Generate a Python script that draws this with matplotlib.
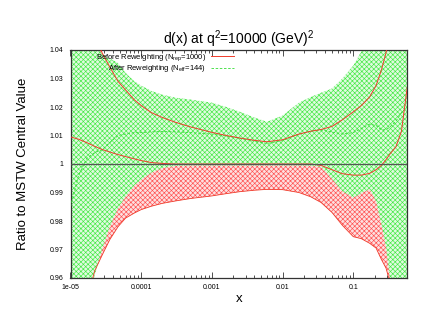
import matplotlib
matplotlib.use("Agg")
import matplotlib.pyplot as plt
from matplotlib.ticker import LogLocator, NullFormatter, FixedLocator, FixedFormatter

plt.rcParams['font.family'] = ['Liberation Sans', 'DejaVu Sans']
plt.rcParams['mathtext.default'] = 'regular'
plt.rcParams['hatch.linewidth'] = 0.45

# ---- data ----
x = [1e-5, 1.3e-5, 1.7e-5, 2.2e-5, 2.8e-5, 3.6e-5, 4.7e-5, 6e-5, 8e-5, 1e-4,
     1.4e-4, 2e-4, 3e-4, 5e-4, 1e-3, 1.6e-3, 2.5e-3, 4e-3, 6e-3, 1e-2,
     1.7e-2, 2.5e-2, 3.5e-2, 5e-2, 7e-2, 1e-1, 1.3e-1, 1.7e-1, 2.1e-1, 2.5e-1,
     2.9e-1, 3.3e-1, 4e-1, 4.8e-1, 5.8e-1]

# before reweighting band (upper / lower edge)
before_up = [1.075, 1.063, 1.053, 1.045, 1.039, 1.034, 1.029, 1.026, 1.0225, 1.0205,
             1.018, 1.0163, 1.0147, 1.013, 1.0111, 1.0100, 1.0091, 1.0083, 1.0078, 1.0085,
             1.0105, 1.0115, 1.0121, 1.0132, 1.0155, 1.0183, 1.0205, 1.0235, 1.0275, 1.033,
             1.039, 1.046, 1.06, 1.08, 1.10]
before_lo = [0.915, 0.935, 0.952, 0.9625, 0.968, 0.9735, 0.978, 0.981, 0.9828, 0.9840,
             0.9852, 0.9862, 0.9870, 0.9879, 0.9888, 0.9896, 0.9903, 0.9908, 0.9911, 0.9910,
             0.9900, 0.9885, 0.9865, 0.9830, 0.9785, 0.9745, 0.9738, 0.9722, 0.9705, 0.9665,
             0.9635, 0.9585, 0.945, 0.925, 0.90]
# after reweighting band (upper / lower edge) and its central value
after_up = [1.07, 1.06, 1.05, 1.042, 1.0385, 1.0370, 1.0355, 1.032, 1.029, 1.0275,
            1.0256, 1.0243, 1.0233, 1.0226, 1.0215, 1.0200, 1.0183, 1.0163, 1.0148, 1.0170,
            1.0215, 1.0235, 1.0250, 1.0265, 1.0300, 1.0345, 1.0395, 1.046, 1.052, 1.058,
            1.064, 1.07, 1.08, 1.09, 1.10]
after_lo = [0.90, 0.925, 0.948, 0.961, 0.970, 0.978, 0.9845, 0.9885, 0.9925, 0.9945,
            0.9970, 0.9986, 0.9993, 0.9995, 0.9995, 0.9995, 0.9995, 0.9995, 0.9995, 0.9995,
            0.9995, 0.9994, 0.9990, 0.9948, 0.9905, 0.9882, 0.9898, 0.9912, 0.9870, 0.9790,
            0.9710, 0.9600, 0.935, 0.90, 0.86]
after_mid = [0.985, 0.996, 1.002, 1.004, 1.005, 1.0075, 1.010, 1.0105, 1.011, 1.011,
             1.0113, 1.0114, 1.0113, 1.011, 1.0105, 1.0098, 1.009, 1.008, 1.0072, 1.0082,
             1.0105, 1.0115, 1.012, 1.0112, 1.0105, 1.011, 1.0125, 1.014, 1.0135, 1.012,
             1.012, 1.013, 1.015, 1.018, 1.02]
# second red curve
red_mid = [1.0095, 1.0087, 1.0075, 1.0062, 1.0051, 1.0042, 1.0033, 1.0026, 1.0018, 1.0012,
           1.0005, 1.0002, 1.0000, 1.0000, 1.0000, 1.0000, 1.0000, 1.0000, 1.0000, 1.0000,
           1.0000, 1.0000, 0.9995, 0.9980, 0.9966, 0.9961, 0.9961, 0.9967, 0.9980, 0.9995,
           1.0015, 1.0035, 1.0060, 1.0115, 1.027]

xticks = [1e-5, 1e-4, 1e-3, 1e-2, 1e-1]
xticklabels = ['1e-05', '0.0001', '0.001', '0.01', '0.1']
yticks = [0.96, 0.97, 0.98, 0.99, 1.0, 1.01, 1.02, 1.03, 1.04]
yticklabels = ['0.96', '0.97', '0.98', '0.99', '1', '1.01', '1.02', '1.03', '1.04']
label_before = 'Before Reweighting (N$_{rep}$=1000)'
label_after = 'After Reweighting (N$_{eff}$=144)'

RED = '#f03a2a'
GREEN = '#33dd33'

fig = plt.figure(figsize=(4.34, 3.35), dpi=100)
ax = fig.add_axes([70.5/434, 1-278/335, 336.5/434, 228/335])

ax.fill_between(x, before_lo, before_up, facecolor='#fde0e0', edgecolor='#ff5050',
                hatch='xxxxxxx', linewidth=0, zorder=1)
ax.fill_between(x, after_lo, after_up, facecolor='#e0fbe0', edgecolor='#44e844',
                hatch='xxxxxxx', linewidth=0, zorder=2)

l1, = ax.plot(x, before_up, color=RED, lw=0.7, zorder=4, label=label_before)
ax.plot(x, before_lo, color=RED, lw=0.6, zorder=4)
ax.plot(x, red_mid, color=RED, lw=0.7, zorder=4)
l2, = ax.plot(x, after_mid, color=GREEN, lw=0.6, ls=(0, (3, 2)), zorder=3, label=label_after)
ax.axhline(1.0, color='#555555', lw=0.9, zorder=5)

ax.set_xscale('log')
ax.set_xlim(1e-5, 0.575)
ax.set_ylim(0.96, 1.04)

ax.xaxis.set_major_locator(FixedLocator(xticks))
ax.xaxis.set_major_formatter(FixedFormatter(xticklabels))
ax.xaxis.set_minor_locator(LogLocator(base=10, subs=range(2, 10)))
ax.xaxis.set_minor_formatter(NullFormatter())
ax.yaxis.set_major_locator(FixedLocator(yticks))
ax.yaxis.set_major_formatter(FixedFormatter(yticklabels))

ax.tick_params(which='both', direction='in', top=True, right=True, colors='#333333',
               labelcolor='black', width=0.6)
ax.tick_params(which='major', length=4, labelsize=5)
ax.tick_params(which='minor', length=2)
ax.tick_params(axis='x', pad=4)
ax.tick_params(axis='y', pad=5)
for s in ax.spines.values():
    s.set_color('#333333')
    s.set_linewidth(0.9)

ax.set_title('d(x) at q$^{2}$=10000 (GeV)$^{2}$', fontsize=10, pad=4)
ax.set_xlabel('x', fontsize=9.5, labelpad=2)
ax.set_ylabel('Ratio to MSTW Central Value', fontsize=9.5, labelpad=15)

ax.legend(handles=[l1, l2], loc='upper right', bbox_to_anchor=((234-70.5)/336.5, 0.992),
          frameon=False, fontsize=5.5, markerfirst=False, handlelength=3.0,
          handletextpad=0.7, labelspacing=0.1, borderpad=0, borderaxespad=0)

fig.savefig('out.png', dpi=100)
